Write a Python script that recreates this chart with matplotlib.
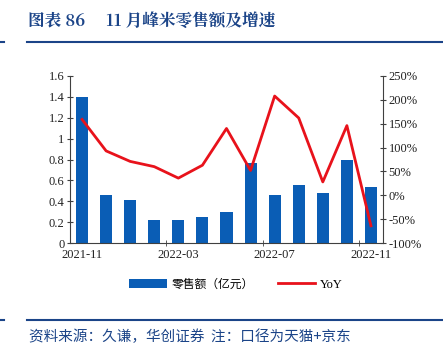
import matplotlib
matplotlib.use("Agg")
import matplotlib.pyplot as plt
import numpy as np
from matplotlib.ticker import FuncFormatter, FixedLocator

months = ["2021-11", "2021-12", "2022-01", "2022-02", "2022-03", "2022-04", "2022-05",
          "2022-06", "2022-07", "2022-08", "2022-09", "2022-10", "2022-11"]
sales = [1.40, 0.46, 0.41, 0.225, 0.22, 0.245, 0.297, 0.77, 0.456, 0.553, 0.475, 0.80, 0.538]
yoy = [159, 93, 71, 60, 36, 63, 140, 52, 208, 162, 28, 146, -64]

navy = "#1B4488"
bar_blue = "#0A5DB5"
line_red = "#E8121B"
serif = "Liberation Serif"
cjk = ["Noto Sans CJK SC", "DejaVu Sans"]

fig = plt.figure(figsize=(4.43, 3.6), dpi=100)
ax = fig.add_axes([70 / 443, 1 - 243 / 360, 313 / 443, 167 / 360])
ax2 = ax.twinx()

x = np.arange(len(months))
bars = ax.bar(x, sales, width=0.5, color=bar_blue, label="零售额（亿元）", zorder=2)
line, = ax2.plot(x, yoy, color=line_red, lw=2, label="YoY", zorder=3)

ax.set_xlim(-0.5, len(months) - 0.5)
ax.set_ylim(0, 1.6)
ax.set_yticks(np.arange(0, 1.61, 0.2))
ax.yaxis.set_major_formatter(FuncFormatter(lambda v, p: "%g" % round(v, 1)))
ax2.set_ylim(-100, 250)
ax2.set_yticks(np.arange(-100, 251, 50))
ax2.yaxis.set_major_formatter(FuncFormatter(lambda v, p: "%d%%" % v))

ax.set_xticks(x[::4])
ax.set_xticklabels(months[::4])
ax.xaxis.set_minor_locator(FixedLocator([3.5, 7.5, 11.5]))
ax.tick_params(axis="x", which="major", length=0, pad=4)
ax.tick_params(axis="x", which="minor", length=4, direction="inout", color="#404040")
ax.tick_params(axis="y", length=4, direction="inout", color="#404040", pad=2)
ax2.tick_params(axis="y", length=4, direction="inout", color="#404040", pad=2)

for a in (ax, ax2):
    a.spines["top"].set_visible(False)
    for s in ("left", "right", "bottom"):
        a.spines[s].set_color("#404040")
        a.spines[s].set_linewidth(0.8)
    for lab in a.get_xticklabels() + a.get_yticklabels():
        lab.set_fontfamily(serif)
        lab.set_fontsize(9)
        lab.set_color("#222222")
ax.spines["right"].set_visible(False)
ax2.spines["left"].set_visible(False)
ax2.spines["bottom"].set_visible(False)

leg = fig.legend([bars, line], ["零售额（亿元）", "YoY"], loc="center",
                 bbox_to_anchor=(236 / 443, 1 - 284 / 360), ncol=2, frameon=False,
                 handlelength=3.2, columnspacing=2.0, handletextpad=0.4,
                 prop={"family": cjk, "size": 8.5})
leg.get_texts()[1].set_fontfamily(serif)
leg.get_texts()[1].set_fontsize(9)

fig.text(28 / 443, 1 - 22 / 360, "图表 86　 11 月峰米零售额及增速", family=["Noto Serif CJK SC", "Noto Sans CJK SC", "DejaVu Sans"],
         fontsize=12, fontweight="bold", color=navy, va="center", ha="left")

for yy in (42, 320):
    fig.add_artist(plt.Line2D([27 / 443, 1], [1 - yy / 360] * 2, color=navy, lw=1.5))
    fig.add_artist(plt.Line2D([0, 4 / 443], [1 - yy / 360] * 2, color=navy, lw=1.5))

fig.text(29 / 443, 1 - 337 / 360, "资料来源：久谦，华创证券  注：口径为天猫+京东", family=cjk,
         fontsize=10.5, style="italic", color=navy, va="center", ha="left")

fig.savefig("out.png", dpi=100)
